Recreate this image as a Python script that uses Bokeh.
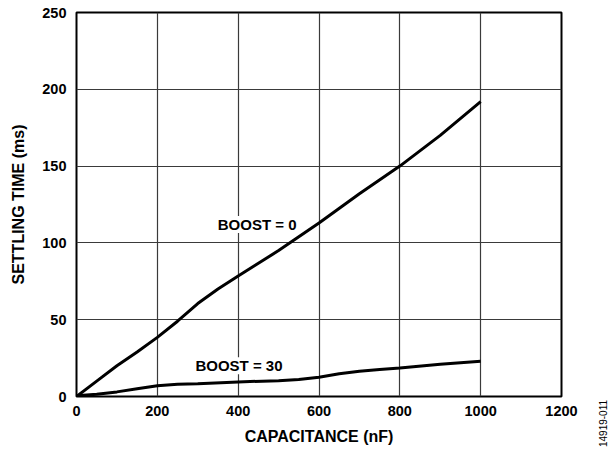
import math
from bokeh.plotting import figure
from bokeh.models import Range1d, Label, FixedTicker
from bokeh.embed import file_html
from bokeh.resources import INLINE

# data (capacitance in nF, settling time in ms)
cap_boost0 = [0, 50, 100, 150, 200, 250, 300, 350, 400, 500, 600, 700, 800, 900, 1000]
t_boost0 = [0, 10, 20, 29, 38.5, 49, 60.5, 70, 78.5, 95, 113, 132, 150, 170, 192]
cap_boost30 = [0, 50, 100, 150, 200, 250, 300, 400, 500, 550, 600, 650, 700, 750, 800, 900, 1000]
t_boost30 = [0.5, 1.5, 3, 5, 7, 8, 8.3, 9.5, 10.3, 11, 12.5, 14.8, 16.5, 17.6, 18.5, 21, 23]
x_ticks = [0, 200, 400, 600, 800, 1000, 1200]
y_ticks = [0, 50, 100, 150, 200, 250]
FONT = "Liberation Sans"

p = figure(output_backend="svg", toolbar_location=None,
           frame_width=485, frame_height=384,
           min_border_left=76, min_border_right=53, min_border_top=12, min_border_bottom=58,
           x_range=Range1d(0, 1200), y_range=Range1d(0, 250))

p.outline_line_color = "black"
p.outline_line_width = 2
p.background_fill_color = "white"
p.border_fill_color = "white"

for ax, ticks in ((p.xaxis, x_ticks), (p.yaxis, y_ticks)):
    ax.ticker = FixedTicker(ticks=ticks)
    ax.axis_line_color = None
    ax.major_tick_line_color = None
    ax.minor_tick_line_color = None
    ax.major_tick_out = 0
    ax.major_tick_in = 0
    ax.major_label_text_font = FONT
    ax.major_label_text_font_style = "bold"
    ax.major_label_text_font_size = "14.5px"
    ax.major_label_text_color = "black"
    ax.axis_label_text_font = FONT
    ax.axis_label_text_font_style = "bold"
    ax.axis_label_text_font_size = "16px"
    ax.axis_label_text_color = "black"

p.xaxis.axis_label = "CAPACITANCE (nF)"
p.yaxis.axis_label = "SETTLING TIME (ms)"
p.xaxis.major_label_standoff = 9
p.yaxis.major_label_standoff = 10
p.xaxis.axis_label_standoff = 9
p.yaxis.axis_label_standoff = 12

p.xgrid.ticker = FixedTicker(ticks=x_ticks)
p.ygrid.ticker = FixedTicker(ticks=y_ticks)
for g in (p.xgrid, p.ygrid):
    g.grid_line_color = "#3a3a3a"
    g.grid_line_width = 1.2

p.line(cap_boost0, t_boost0, line_color="black", line_width=3)
p.line(cap_boost30, t_boost30, line_color="black", line_width=3)

p.add_layout(Label(x=447, y=112, text="BOOST = 0", text_align="center", text_baseline="middle",
                   text_font=FONT, text_font_style="bold", text_font_size="15px",
                   text_color="black",
                   background_fill_color="white", background_fill_alpha=1.0))
p.add_layout(Label(x=402, y=20, text="BOOST = 30", text_align="center", text_baseline="middle",
                   text_font=FONT, text_font_style="bold", text_font_size="15px",
                   text_color="black",
                   background_fill_color="white", background_fill_alpha=1.0))

p.add_layout(Label(x=41, y=-27, x_units="screen", y_units="screen", text="14919-011",
                   angle=math.pi / 2, text_align="center", text_baseline="middle",
                   text_font=FONT, text_font_size="10px", text_color="black"), "right")

open("out.html", "w").write(file_html(p, INLINE))
